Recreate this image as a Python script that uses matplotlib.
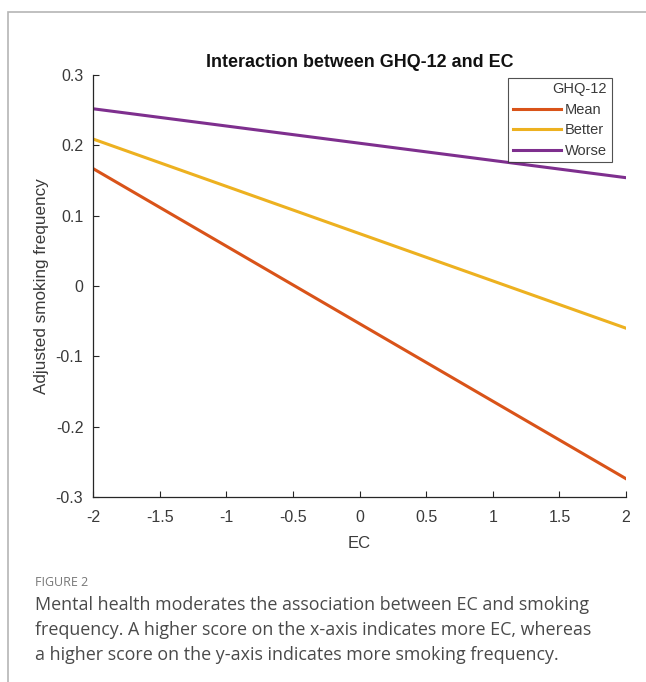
import matplotlib
matplotlib.use("Agg")
import matplotlib.pyplot as plt
from matplotlib.patches import Rectangle


# Simple-slope endpoints (EC = -2 and EC = 2)
ec = [-2, 2]
mean_vals = [0.167, -0.274]
better_vals = [0.209, -0.060]
worse_vals = [0.252, 0.154]

series_names = ["Mean", "Better", "Worse"]
series_vals = [mean_vals, better_vals, worse_vals]
series_colors = ["#D95319", "#EDB120", "#7E2F8E"]

x_ticks = [-2, -1.5, -1, -0.5, 0, 0.5, 1, 1.5, 2]
x_ticklabels = ["-2", "-1.5", "-1", "-0.5", "0", "0.5", "1", "1.5", "2"]
y_ticks = [-0.3, -0.2, -0.1, 0, 0.1, 0.2, 0.3]
y_ticklabels = ["-0.3", "-0.2", "-0.1", "0", "0.1", "0.2", "0.3"]

W, H = 646, 682
fig = plt.figure(figsize=(W / 100, H / 100), dpi=100)

# light page frame around the figure
fig.patches.append(Rectangle(
    (8 / W, -0.05), 1.1, (H - 12) / H + 0.05,
    transform=fig.transFigure, fill=False,
    edgecolor="#b5b5b5", linewidth=1.2
))

ax = fig.add_axes([93 / W, 1 - 497 / H, (626 - 93) / W, (497 - 75) / H])

for name, vals, col in zip(series_names, series_vals, series_colors):
    ax.plot(ec, vals, color=col, linewidth=2.2, label=name)

ax.set_xlim(-2, 2)
ax.set_ylim(-0.3, 0.3)
ax.set_xticks(x_ticks)
ax.set_xticklabels(x_ticklabels)
ax.set_yticks(y_ticks)
ax.set_yticklabels(y_ticklabels)

ax.spines["top"].set_visible(False)
ax.spines["right"].set_visible(False)
for s in ("left", "bottom"):
    ax.spines[s].set_color("#262626")
    ax.spines[s].set_linewidth(0.9)

ax.tick_params(direction="in", length=4, width=0.8, colors="#262626",
               labelcolor="#3a3a3a", labelsize=11.5,
               labelfontfamily="Liberation Sans")
ax.tick_params(axis="x", pad=9)
ax.tick_params(axis="y", pad=7)

ax.set_xlabel("EC", fontsize=12, color="#3a3a3a",
              family="Liberation Sans", labelpad=8)
ax.set_ylabel("Adjusted smoking frequency", fontsize=12.3, color="#3a3a3a",
              family="Liberation Sans", labelpad=5)
ax.set_title("Interaction between GHQ-12 and EC", fontsize=12.9,
             fontweight="bold", family="Liberation Sans", color="#111111",
             pad=6)

leg = ax.legend(title="GHQ-12", loc="upper right",
                bbox_to_anchor=(0.973, 0.993), frameon=True, fancybox=False,
                prop={"family": "Liberation Sans", "size": 10.5},
                title_fontproperties={"family": "Liberation Sans", "size": 10.5},
                handlelength=3.3, handletextpad=0.3, labelspacing=0.45,
                borderpad=0.3, alignment="right", borderaxespad=0)
leg.get_frame().set_edgecolor("#262626")
leg.get_frame().set_linewidth(0.8)
for t in leg.get_texts():
    t.set_color("#3a3a3a")
leg.get_title().set_color("#3a3a3a")

# figure caption
fig.text(35 / W, 1 - 582 / H, "FIGURE 2", fontsize=9, color="#777777",
         family="Open Sans", va="center", ha="left")
caption = ("Mental health moderates the association between EC and smoking\n"
           "frequency. A higher score on the x-axis indicates more EC, whereas\n"
           "a higher score on the y-axis indicates more smoking frequency.")
fig.text(35 / W, 1 - 596 / H, caption, fontsize=12.9, color="#4a4a4a",
         family="Open Sans", va="top", ha="left", linespacing=1.5)

fig.savefig("out.png", dpi=100)
